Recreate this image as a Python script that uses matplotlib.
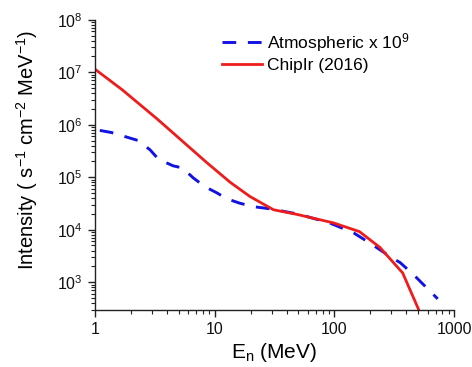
import matplotlib
matplotlib.use("Agg")
import matplotlib.pyplot as plt
from matplotlib.ticker import LogLocator

plt.rcParams['font.family'] = ['Liberation Sans', 'DejaVu Sans']
plt.rcParams['mathtext.default'] = 'regular'

# ChipIr (2016) spectrum
chipir_x = [1, 1.7, 3.3, 8.6, 13.5, 19.7, 31, 49, 98, 162, 240, 372, 500, 540]
chipir_y = [1.15e7, 4.6e6, 1.3e6, 1.9e5, 8.0e4, 4.3e4, 2.4e4, 1.95e4, 1.35e4,
            9.2e3, 4.6e3, 1.5e3, 3.2e2, 2.0e2]

# Atmospheric spectrum x 1e9
atm_x = [1.1, 1.38, 2.3, 2.9, 3.4, 4.5, 5.4, 6.6, 8.3, 10.5, 12.6, 16.2, 21,
         29, 49, 91, 145, 210, 290, 355, 457, 730]
atm_y = [7.8e5, 7.1e5, 5.0e5, 3.3e5, 2.2e5, 1.65e5, 1.5e5, 9.8e4, 6.6e4, 5.0e4,
         3.9e4, 3.2e4, 2.75e4, 2.5e4, 2.0e4, 1.35e4, 8.7e3, 5.1e3, 3.1e3,
         2.35e3, 1.4e3, 4.8e2]

fig = plt.figure(figsize=(4.72, 3.67), dpi=100)
ax = fig.add_axes([0.201, 0.155, 0.761, 0.791])

ax.plot(atm_x, atm_y, color='#1212e2', lw=2.1, dashes=(4.7, 4),
        label='Atmospheric x 10$^9$')
ax.plot(chipir_x, chipir_y, color='#ee1c1c', lw=2.0, label='ChipIr (2016)')

ax.set_xscale('log')
ax.set_yscale('log')
ax.set_xlim(1, 1000)
ax.set_ylim(10**2.467, 1e8)

ax.spines['top'].set_visible(False)
ax.spines['right'].set_visible(False)
for s in ('left', 'bottom'):
    ax.spines[s].set_linewidth(1.0)
    ax.spines[s].set_color('#222222')

ax.xaxis.set_major_locator(LogLocator(base=10, numticks=10))
ax.xaxis.set_minor_locator(LogLocator(base=10, subs=range(2, 10), numticks=20))
ax.yaxis.set_major_locator(LogLocator(base=10, numticks=10))
ax.yaxis.set_minor_locator(LogLocator(base=10, subs=range(2, 10), numticks=20))
ax.set_xticks([1, 10, 100, 1000])
ax.set_xticklabels(['1', '10', '100', '1000'])

ax.tick_params(which='major', direction='out', length=5, width=1,
               labelsize=11.5, colors='#222222', labelcolor='#111111')
ax.tick_params(which='minor', direction='out', length=3, width=0.8,
               colors='#222222')

ax.set_xlabel('E$_n$ (MeV)', fontsize=15, labelpad=3)
ax.set_ylabel('Intensity ( s$^{-1}$ cm$^{-2}$ MeV$^{-1}$)', fontsize=14.5)
ax.yaxis.set_label_coords(-0.152, 0.552)

ax.legend(loc='upper left', bbox_to_anchor=(0.354, 0.962), frameon=False,
          fontsize=12.5, handlelength=2.3, handletextpad=0.3,
          labelspacing=0.25, borderaxespad=0.0, borderpad=0.0)

fig.savefig('out.png', dpi=100)
